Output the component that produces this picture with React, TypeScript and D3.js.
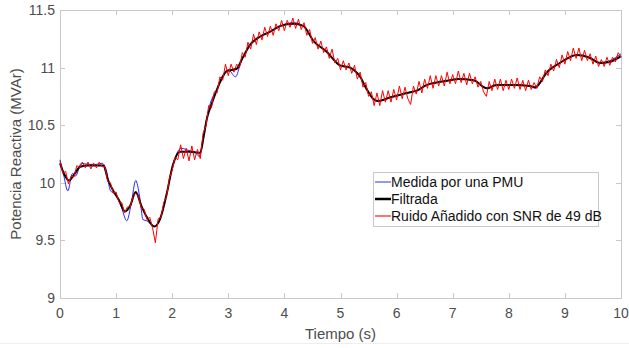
import React, { useEffect, useRef } from 'react';
import * as d3 from 'd3';

// Filtered signal (key points)
const filtT = [0, 0.08, 0.16, 0.25, 0.36, 0.5, 0.65, 0.77, 0.86, 0.95, 1.05, 1.16, 1.25, 1.35, 1.45, 1.55, 1.68, 1.78, 1.9, 2.01, 2.14, 2.3, 2.5, 2.56, 2.62, 2.7, 2.79, 2.9, 2.97, 3.15, 3.25, 3.39, 3.57, 3.74, 3.92, 4.16, 4.34, 4.52, 4.75, 4.99, 5.17, 5.35, 5.47, 5.58, 5.67, 5.88, 6.18, 6.36, 6.54, 6.71, 6.95, 7.1, 7.37, 7.61, 7.78, 8.08, 8.38, 8.47, 8.68, 8.91, 9.21, 9.42, 9.63, 9.8, 10];
const filtV = [10.17, 10.07, 10.02, 10.07, 10.14, 10.15, 10.15, 10.15, 10.02, 9.93, 9.85, 9.75, 9.8, 9.92, 9.8, 9.7, 9.62, 9.68, 9.9, 10.15, 10.27, 10.27, 10.26, 10.4, 10.56, 10.68, 10.8, 10.92, 10.97, 10.99, 11.08, 11.2, 11.27, 11.31, 11.36, 11.38, 11.36, 11.23, 11.14, 11.02, 11.0, 10.92, 10.81, 10.73, 10.71, 10.74, 10.78, 10.8, 10.85, 10.87, 10.89, 10.9, 10.89, 10.82, 10.85, 10.85, 10.84, 10.83, 10.96, 11.04, 11.11, 11.09, 11.04, 11.05, 11.1];

// PMU measurement
const pmuT = [0, 0.06, 0.14, 0.22, 0.28, 0.38, 0.5, 0.65, 0.75, 0.82, 0.9, 1.0, 1.1, 1.19, 1.27, 1.35, 1.42, 1.48, 1.55, 1.68, 1.78, 1.9, 2.01, 2.16, 2.3, 2.4, 2.48, 2.56, 2.62, 2.7, 2.79, 2.9, 3.0, 3.13, 3.22, 3.39, 3.57, 3.74, 3.92, 4.16, 4.34, 4.52, 4.75, 4.99, 5.17, 5.35, 5.47, 5.58, 5.67, 5.88, 6.18, 6.36, 6.54, 6.71, 6.95, 7.1, 7.37, 7.61, 7.78, 8.08, 8.38, 8.47, 8.68, 8.91, 9.21, 9.42, 9.63, 9.8, 10];
const pmuV = [10.2, 10.08, 9.93, 10.08, 10.06, 10.17, 10.16, 10.16, 10.17, 10.12, 9.93, 9.9, 9.78, 9.67, 9.82, 10.02, 9.88, 9.68, 9.67, 9.62, 9.68, 9.9, 10.15, 10.3, 10.28, 10.27, 10.23, 10.4, 10.57, 10.72, 10.8, 10.93, 10.98, 10.92, 11.04, 11.2, 11.27, 11.31, 11.36, 11.39, 11.36, 11.23, 11.14, 11.02, 11.0, 10.92, 10.81, 10.73, 10.71, 10.74, 10.78, 10.8, 10.85, 10.87, 10.89, 10.9, 10.89, 10.82, 10.85, 10.85, 10.84, 10.82, 10.96, 11.04, 11.11, 11.09, 11.04, 11.06, 11.12];

// Noisy signal, one sample every 0.05 s from 0 to 10
const noisyV = [
  10.19, 10.08, 10.10, 9.99, 10.06, 10.05, 10.15, 10.13, 10.18, 10.13,
  10.18, 10.12, 10.17, 10.13, 10.18, 10.14, 10.14, 10.01, 10.00, 9.91,
  9.92, 9.83, 9.83, 9.74, 9.79, 9.79, 9.88, 9.91, 9.88, 9.78,
  9.77, 9.68, 9.70, 9.61, 9.48, 9.69, 9.70, 9.83, 9.88, 10.04,
  10.11, 10.22, 10.20, 10.33, 10.21, 10.30, 10.19, 10.32, 10.20, 10.29,
  10.21, 10.43, 10.49, 10.67, 10.65, 10.79, 10.78, 10.92, 10.89, 11.03,
  10.93, 11.03, 10.96, 11.03, 11.00, 11.13, 11.09, 11.22, 11.16, 11.29,
  11.20, 11.31, 11.24, 11.35, 11.27, 11.36, 11.28, 11.38, 11.32, 11.41,
  11.32, 11.41, 11.35, 11.43, 11.34, 11.42, 11.33, 11.39, 11.28, 11.33,
  11.21, 11.26, 11.16, 11.23, 11.13, 11.18, 11.08, 11.16, 11.04, 11.08,
  10.98, 11.06, 10.98, 11.04, 10.95, 11.02, 10.90, 10.96, 10.83, 10.87,
  10.75, 10.79, 10.67, 10.78, 10.67, 10.80, 10.70, 10.80, 10.70, 10.81,
  10.72, 10.84, 10.73, 10.83, 10.73, 10.68, 10.84, 10.77, 10.88, 10.78,
  10.90, 10.82, 10.93, 10.82, 10.93, 10.84, 10.93, 10.84, 10.96, 10.86,
  10.94, 10.86, 10.97, 10.87, 10.95, 10.85, 10.95, 10.86, 10.92, 10.83,
  10.88, 10.79, 10.75, 10.88, 10.80, 10.90, 10.81, 10.90, 10.80, 10.89,
  10.81, 10.90, 10.82, 10.91, 10.81, 10.89, 10.80, 10.89, 10.81, 10.87,
  10.82, 10.92, 10.88, 10.98, 10.93, 11.03, 10.97, 11.07, 11.00, 11.11,
  11.03, 11.14, 11.06, 11.17, 11.08, 11.17, 11.06, 11.15, 11.06, 11.12,
  11.03, 11.10, 11.01, 11.07, 11.01, 11.09, 11.02, 11.09, 11.05, 11.13,
  11.09,
];

const xTicks = [0, 1, 2, 3, 4, 5, 6, 7, 8, 9, 10];
const yTicks = [9, 9.5, 10, 10.5, 11, 11.5];
const legendLabels = ['Medida por una PMU', 'Filtrada', 'Ruido Añadido con SNR de 49 dB'];

const W = 629;
const H = 348;

export default function App() {
  const ref = useRef<SVGSVGElement>(null);

  useEffect(() => {
    const svg = d3.select(ref.current);
    svg.selectAll('*').remove();

    const left = 60, right = 621, top = 10, bottom = 298;
    const x = d3.scaleLinear().domain([0, 10]).range([left, right]);
    const y = d3.scaleLinear().domain([9, 11.5]).range([bottom, top]);
    const axisColor = '#c8c8c8';
    const textColor = '#4d4d4d';
    const font = 'Liberation Sans, Arial, sans-serif';

    svg.append('rect').attr('width', W).attr('height', H).attr('fill', '#fff');
    svg.append('line').attr('x1', 0).attr('x2', W).attr('y1', 343.5).attr('y2', 343.5)
      .attr('stroke', '#eeeeee');

    // Box
    svg.append('rect')
      .attr('x', left + 0.5).attr('y', top + 0.5)
      .attr('width', right - left).attr('height', bottom - top)
      .attr('fill', 'none').attr('stroke', axisColor);

    const tickLen = 5;
    const g = svg.append('g');
    xTicks.forEach(t => {
      const px = Math.round(x(t)) + 0.5;
      g.append('line').attr('x1', px).attr('x2', px).attr('y1', bottom).attr('y2', bottom - tickLen).attr('stroke', axisColor);
      g.append('line').attr('x1', px).attr('x2', px).attr('y1', top).attr('y2', top + tickLen).attr('stroke', axisColor);
      g.append('text').attr('x', x(t)).attr('y', bottom + 20).attr('text-anchor', 'middle')
        .attr('font-family', font).attr('font-size', 14).attr('fill', textColor).text(d3.format('~g')(t));
    });
    yTicks.forEach(v => {
      const py = Math.round(y(v)) + 0.5;
      g.append('line').attr('x1', left).attr('x2', left + tickLen).attr('y1', py).attr('y2', py).attr('stroke', axisColor);
      g.append('line').attr('x1', right).attr('x2', right - tickLen).attr('y1', py).attr('y2', py).attr('stroke', axisColor);
      g.append('text').attr('x', left - 5).attr('y', y(v) + 5).attr('text-anchor', 'end')
        .attr('font-family', font).attr('font-size', 14).attr('fill', textColor).text(d3.format('~g')(v));
    });

    // Axis labels
    svg.append('text').attr('x', (left + right) / 2).attr('y', 339).attr('text-anchor', 'middle')
      .attr('font-family', font).attr('font-size', 15).attr('fill', textColor).text('Tiempo (s)');
    svg.append('text').attr('transform', `translate(21,${(top + bottom) / 2}) rotate(-90)`)
      .attr('text-anchor', 'middle')
      .attr('font-family', font).attr('font-size', 15).attr('fill', textColor).text('Potencia Reactiva (MVAr)');

    // Series
    const plot = svg.append('g');
    const lineSmooth = d3.line<[number, number]>().x(d => x(d[0])).y(d => y(d[1])).curve(d3.curveMonotoneX);
    const lineRaw = d3.line<[number, number]>().x(d => x(d[0])).y(d => y(d[1]));

    const pmu = pmuT.map((t, i) => [t, pmuV[i]] as [number, number]);
    const filt = filtT.map((t, i) => [t, filtV[i]] as [number, number]);
    const noisy = noisyV.map((v, i) => [i * 0.05, v] as [number, number]);

    plot.append('path').attr('d', lineSmooth(pmu)).attr('fill', 'none').attr('stroke', '#2a2af5').attr('stroke-width', 1);
    plot.append('path').attr('d', lineSmooth(filt)).attr('fill', 'none').attr('stroke', '#000').attr('stroke-width', 2);
    plot.append('path').attr('d', lineRaw(noisy)).attr('fill', 'none').attr('stroke', '#ff0000').attr('stroke-width', 1);

    // Legend
    const lg = svg.append('g').attr('transform', 'translate(373,172)');
    lg.append('rect').attr('x', 0.5).attr('y', 0.5).attr('width', 225).attr('height', 54)
      .attr('fill', '#fff').attr('stroke', axisColor);
    const colors = ['#2a2af5', '#000', '#ff4444'];
    const widths = [1, 2.5, 1.5];
    legendLabels.forEach((lab, i) => {
      const yy = 10 + i * 17;
      lg.append('line').attr('x1', 2).attr('x2', 18).attr('y1', yy).attr('y2', yy)
        .attr('stroke', colors[i]).attr('stroke-width', widths[i]);
      lg.append('text').attr('x', 18).attr('y', yy + 5)
        .attr('font-family', font).attr('font-size', 14).attr('fill', '#111').text(lab);
    });
  }, []);

  return (
    <svg ref={ref} width={W} height={H} style={{ position: 'absolute', left: 0, top: 0 }} />
  );
}
